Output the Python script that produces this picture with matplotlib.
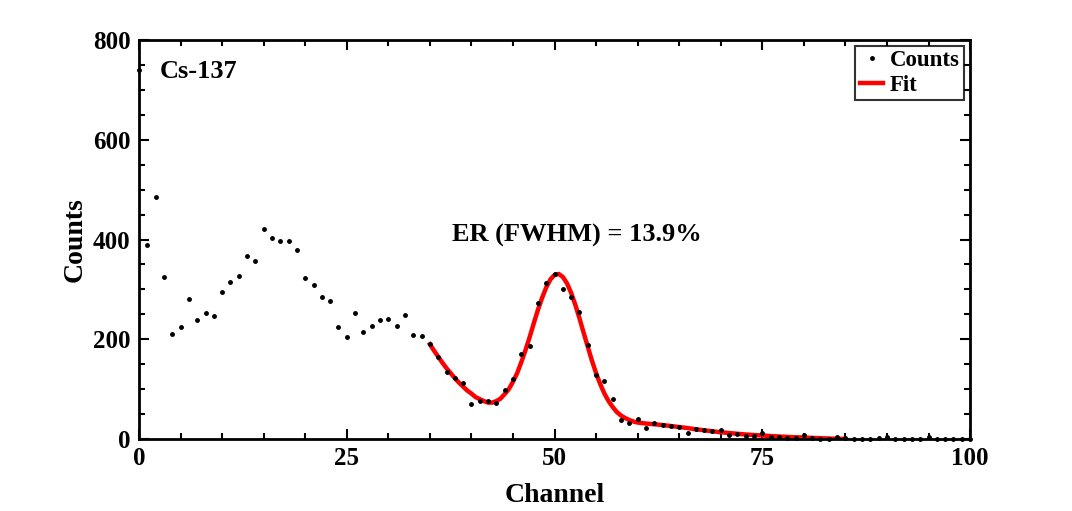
import numpy as np
import matplotlib as mpl
mpl.use('Agg')
import matplotlib.pyplot as plt

# measured spectrum (channel 0..100)
channels = np.arange(0, 101)
counts = [740, 388, 485, 325, 210, 225, 280, 239, 252, 247,
          295, 315, 327, 366, 356, 421, 403, 398, 398, 379,
          323, 308, 285, 277, 225, 204, 252, 214, 226, 239,
          240, 227, 248, 209, 207, 191, 165, 135, 123, 112,
          70, 77, 76, 73, 98, 120, 171, 187, 273, 312,
          330, 301, 285, 255, 189, 128, 116, 80, 38, 32,
          40, 23, 32, 28, 26, 25, 13, 20, 19, 16,
          18, 8, 10, 6, 7, 13, 5, 4, 3, 2,
          9, 2, 1, 0, 4, 2, 0, 0, 0, 2,
          5, 1, 1, 0, 0, 5, 0, 0, 0, 0, 0]

# fit curve
fit_x = [35, 35.5, 36, 36.5, 37, 37.5, 38, 38.5, 39, 39.5,
         40, 40.5, 41, 41.5, 42, 42.5, 43, 43.5, 44, 44.5,
         45, 45.5, 46, 46.5, 47, 47.5, 48, 48.5, 49, 49.5,
         50, 50.5, 51, 51.5, 52, 52.5, 53, 53.5, 54, 54.5,
         55, 55.5, 56, 56.5, 57, 57.5, 58, 58.5, 59, 59.5,
         60, 61, 62, 63, 64, 65, 66, 67, 68, 69,
         70, 71, 72, 73, 74, 75, 76, 77, 78, 79,
         80, 81, 82, 83, 84, 85]
fit_y = [190, 177, 165, 153, 142, 132, 122, 113, 105, 97,
         91, 84, 80, 76, 73, 73, 76, 81, 90, 100,
         115, 132, 154, 178, 204, 232, 259, 283, 304, 320,
         329, 331, 325, 312, 293, 269, 242, 213, 185, 157,
         132, 110, 91, 76, 64, 54, 47, 42, 38, 35,
         33, 31, 29.5, 28, 26, 24, 22, 19.5, 17.5, 15.5,
         13.5, 12, 10.5, 9, 8, 7, 6, 5, 4.2, 3.5,
         2.9, 2.2, 1.6, 1.0, 0.5, 0.2]

plt.rcParams.update({
    "font.family": "Liberation Serif",
    "font.weight": "bold",
    "axes.labelweight": "bold",
    "font.size": 18,
})

fig = plt.figure(figsize=(10.72, 5.11), dpi=100)
ax = fig.add_axes([0.1297, 0.1409, 0.7752, 0.7808])

ax.plot(channels, counts, "k.", ms=5, label="Counts", clip_on=False, zorder=3)
ax.plot(fit_x, fit_y, color="red", lw=3.2, label="Fit", zorder=2)

ax.set_xlim(0, 100)
ax.set_ylim(0, 800)
ax.set_xticks([0, 25, 50, 75, 100])
ax.set_yticks([0, 200, 400, 600, 800])
ax.set_xticks(np.arange(0, 101, 5), minor=True)
ax.set_yticks(np.arange(0, 801, 50), minor=True)
ax.tick_params(which="both", direction="in", top=True, right=True, width=1.5,
               labelsize=18, pad=6)
ax.tick_params(which="major", length=7)
ax.tick_params(which="minor", length=4)
for s in ax.spines.values():
    s.set_linewidth(2)

ax.set_xlabel("Channel", fontsize=20, labelpad=9)
ax.set_ylabel("Counts", fontsize=20, labelpad=4)

ax.text(2.5, 736, "Cs-137", fontsize=19, va="center", ha="left")
ax.text(37.7, 409, "ER (FWHM) = 13.9%", fontsize=19, va="center", ha="left")

leg = ax.legend(loc="upper right", fontsize=16.5, frameon=True, fancybox=False,
                edgecolor="black", handlelength=1.0, handletextpad=0.3,
                borderpad=0.2, labelspacing=0.15, borderaxespad=0.25)
leg.get_frame().set_linewidth(1.5)

fig.savefig("out.png", dpi=100)
